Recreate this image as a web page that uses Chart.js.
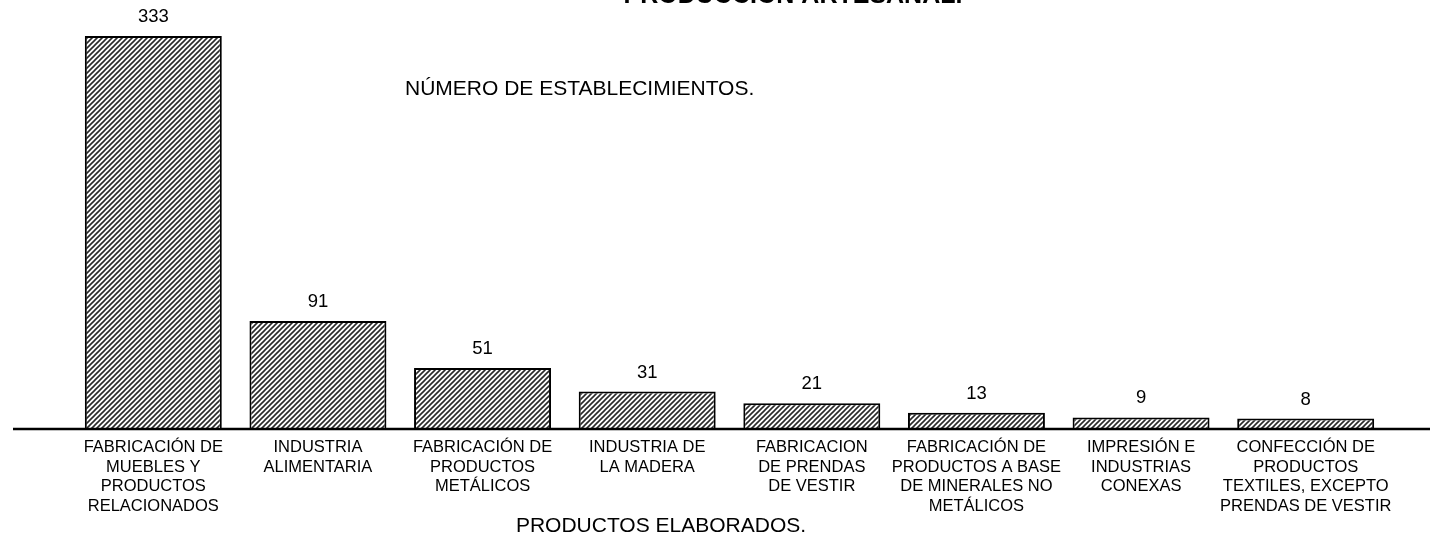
<!DOCTYPE html>
<html>
<head>
<meta charset="utf-8">
<script src="https://cdn.jsdelivr.net/npm/chart.js@4"></script>
<style>
  html, body { margin: 0; padding: 0; background: #fff; }
  canvas { display: block; }
</style>
</head>
<body>
<canvas id="prod_chart" width="1430" height="535"></canvas>
<script>
var categorias = [
    ['FABRICACIÓN DE', 'MUEBLES Y', 'PRODUCTOS', 'RELACIONADOS'],
    ['INDUSTRIA', 'ALIMENTARIA'],
    ['FABRICACIÓN DE', 'PRODUCTOS', 'METÁLICOS'],
    ['INDUSTRIA DE', 'LA MADERA'],
    ['FABRICACION', 'DE PRENDAS', 'DE VESTIR'],
    ['FABRICACIÓN DE', 'PRODUCTOS A BASE', 'DE MINERALES NO', 'METÁLICOS'],
    ['IMPRESIÓN E', 'INDUSTRIAS', 'CONEXAS'],
    ['CONFECCIÓN DE', 'PRODUCTOS', 'TEXTILES, EXCEPTO', 'PRENDAS DE VESTIR']
];
var establecimientos = [333, 91, 51, 31, 21, 13, 9, 8];

var titulo = 'PRODUCCIÓN ARTESANAL.';
var tituloY = 'NÚMERO DE ESTABLECIMIENTOS.';
var tituloX = 'PRODUCTOS ELABORADOS.';

var fuente = "'Liberation Sans', Arial, sans-serif";

// rayado diagonal de las barras
function rayado() {
    var c = document.createElement('canvas');
    c.width = 5; c.height = 5;
    var g = c.getContext('2d');
    g.fillStyle = '#fff';
    g.fillRect(0, 0, 5, 5);
    g.strokeStyle = '#2a2a2a';
    g.lineWidth = 1.6;
    g.beginPath();
    g.moveTo(-1, 6); g.lineTo(6, -1);
    g.moveTo(-1, 1); g.lineTo(1, -1);
    g.moveTo(4, 6); g.lineTo(6, 4);
    g.stroke();
    return g.createPattern(c, 'repeat');
}

var textos = {
    id: 'textos',
    afterDraw: function (chart) {
        var ctx = chart.ctx;
        ctx.save();
        ctx.fillStyle = '#000';
        // eje horizontal
        ctx.strokeStyle = '#000';
        ctx.lineWidth = 2.5;
        ctx.beginPath();
        ctx.moveTo(13, 429);
        ctx.lineTo(1430, 429);
        ctx.stroke();
        // valores
        ctx.font = '18.5px ' + fuente;
        ctx.textAlign = 'center';
        ctx.textBaseline = 'alphabetic';
        chart.getDatasetMeta(0).data.forEach(function (bar, i) {
            ctx.fillText(String(establecimientos[i]), bar.x, bar.y - 14);
        });
        // titulos
        ctx.font = 'bold 25px ' + fuente;
        ctx.fillText(titulo, 793, 3);
        ctx.font = '21px ' + fuente;
        ctx.textAlign = 'left';
        ctx.fillText(tituloY, 405, 95);
        ctx.textAlign = 'center';
        ctx.fillText(tituloX, 661, 532);
        ctx.restore();
    }
};

var prod_chart = document.getElementById('prod_chart');
var My_prod_chart = new Chart(prod_chart, {
    type: 'bar',
    data: {
        labels: categorias,
        datasets: [{
            data: establecimientos,
            backgroundColor: rayado(),
            borderColor: '#000',
            borderWidth: 2,
            barPercentage: 0.832,
            categoryPercentage: 1
        }]
    },
    options: {
        responsive: false,
        animation: false,
        devicePixelRatio: 1,
        layout: { padding: { left: 71, right: 42, top: 16, bottom: 0 } },
        plugins: {
            legend: { display: false },
            tooltip: { enabled: false }
        },
        scales: {
            x: {
                grid: { display: false, drawTicks: false },
                border: { display: false },
                ticks: {
                    color: '#000',
                    maxRotation: 0,
                    autoSkip: false,
                    padding: 10,
                    font: { family: fuente, size: 16.5, lineHeight: 1.18 }
                },
                afterFit: function (s) { s.height = 107; }
            },
            y: {
                display: false,
                min: 0,
                max: 350
            }
        }
    },
    plugins: [textos]
});
</script>
</body>
</html>
